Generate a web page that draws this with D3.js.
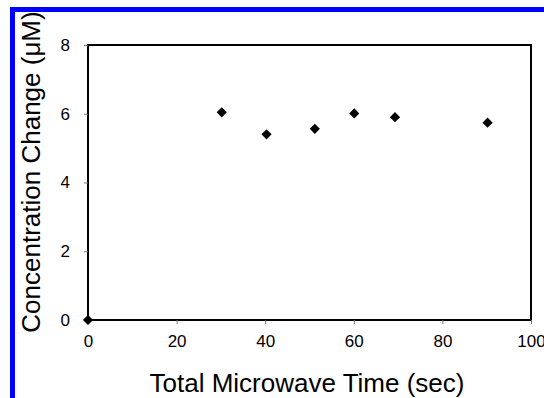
<!DOCTYPE html>
<html>
<head>
<meta charset="utf-8">
<script src="https://cdn.jsdelivr.net/npm/d3@7"></script>
<style>
  html, body { margin: 0; padding: 0; background: #fff; }
  svg { display: block; }
</style>
</head>
<body>
<svg id="chart" width="544" height="398"></svg>
<script>
// data
const timeSec = [0, 30.2, 40.3, 51.2, 60.1, 69.3, 90.2];
const concChange = [0, 6.04, 5.40, 5.56, 6.01, 5.90, 5.74];
const xTicks = [0, 20, 40, 60, 80, 100];
const yTicks = [0, 2, 4, 6, 8];

const W = 544, H = 398;
const m = { top: 45, right: 13, bottom: 78, left: 88 };
const font = 'Arial, "Liberation Sans", sans-serif';

const svg = d3.select('#chart');

// blue frame (top + left edges)
svg.append('rect').attr('x', 10).attr('y', 7).attr('width', W - 10).attr('height', 5).attr('fill', '#0000ff');
svg.append('rect').attr('x', 10).attr('y', 7).attr('width', 5).attr('height', H - 7).attr('fill', '#0000ff');

const x = d3.scaleLinear().domain([0, 100]).range([m.left, W - m.right]);
const y = d3.scaleLinear().domain([0, 8]).range([H - m.bottom, m.top]);

// plot frame
svg.append('rect')
  .attr('x', x(0)).attr('y', y(8))
  .attr('width', x(100) - x(0)).attr('height', y(0) - y(8))
  .attr('fill', 'none').attr('stroke', '#000').attr('stroke-width', 2);

// axes
const xAxis = svg.append('g').attr('transform', `translate(0,${y(0)})`)
  .call(d3.axisBottom(x).tickValues(xTicks).tickSize(4).tickPadding(11));
const yAxis = svg.append('g').attr('transform', `translate(${x(0)},0)`)
  .call(d3.axisLeft(y).tickValues(yTicks).tickSize(4).tickPadding(14));

[xAxis, yAxis].forEach(g => {
  g.select('.domain').remove();
  g.selectAll('.tick line').attr('stroke', '#777').attr('stroke-width', 1);
  g.selectAll('.tick text').attr('font-family', font).attr('font-size', 17).attr('fill', '#000');
});

// axis titles
svg.append('text')
  .attr('x', 307).attr('y', 392)
  .attr('text-anchor', 'middle')
  .attr('font-family', font).attr('font-size', 26).attr('fill', '#000')
  .text('Total Microwave Time (sec)');
svg.append('text')
  .attr('transform', 'translate(40,172) rotate(-90)')
  .attr('text-anchor', 'middle')
  .attr('font-family', font).attr('font-size', 26).attr('fill', '#000')
  .text('Concentration Change (μM)');

// diamond markers
const diamond = d3.symbol().type(d3.symbolSquare).size(52);
svg.append('g').selectAll('path')
  .data(timeSec.map((t, i) => [t, concChange[i]]))
  .join('path')
  .attr('d', diamond)
  .attr('transform', d => `translate(${x(d[0])},${y(d[1])}) rotate(45)`)
  .attr('fill', '#000');
</script>
</body>
</html>
